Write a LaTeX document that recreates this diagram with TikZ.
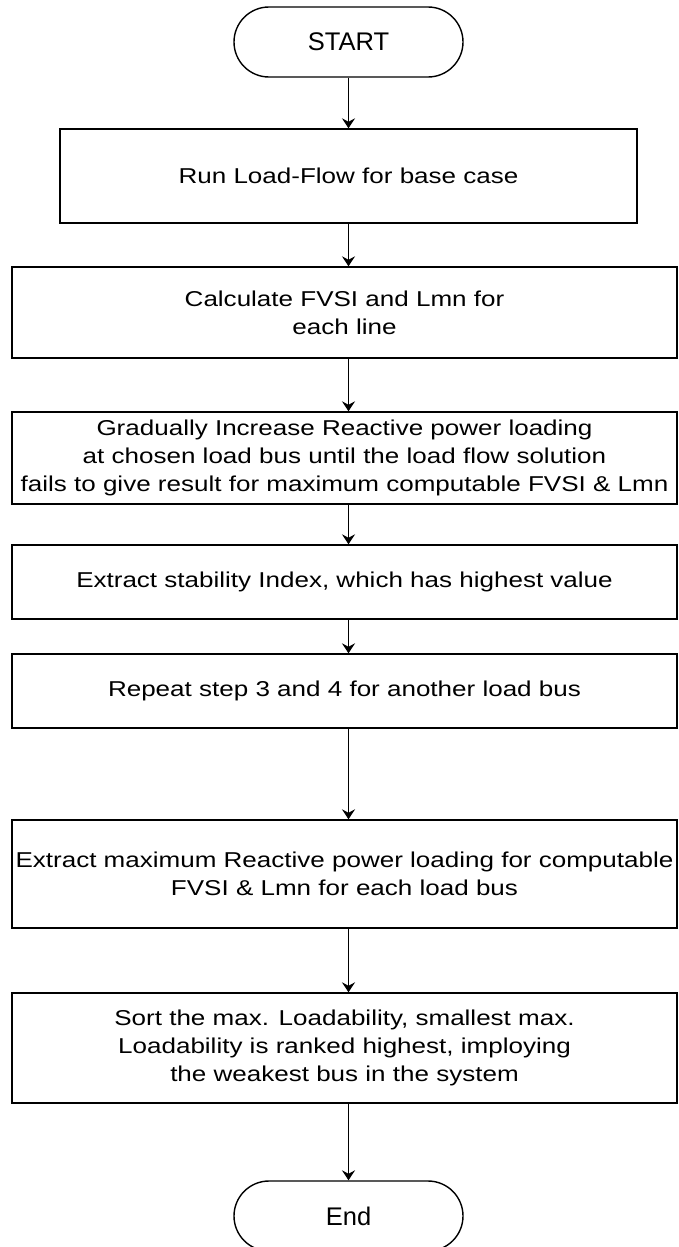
\documentclass[tikz,border=0pt]{standalone}
\usepackage{fontspec}
\setmainfont{Liberation Sans}[FakeStretch=1.21]
\newfontfamily\termfont{Liberation Sans}
\usetikzlibrary{arrows.meta}

\begin{document}
\begin{tikzpicture}[x=1pt,y=-1pt,
  proc/.style={draw, line width=1.4pt, inner sep=0pt, align=center,
    font=\fontsize{21.5}{28}\selectfont},
  term/.style={draw, line width=1.4pt, rounded corners=35pt,
    minimum width=229pt, minimum height=70pt, inner sep=0pt,
    font=\termfont\fontsize{25.5}{30}\selectfont},
  wide/.style={minimum width=665pt},
  flow/.style={line width=1.4pt, -{Stealth[length=10pt,width=13pt,inset=3.5pt]}}]
\useasboundingbox (0,0) rectangle (678,1247);
\clip (0,0) rectangle (678,1247);

% terminals and process steps
\node[term] (start) at (348.5,42) {START};
\node[proc, minimum width=577pt, minimum height=94pt] (b1) at (348.5,176)
  {Run Load-Flow for base case};
\node[proc, wide, minimum height=91pt] (b2) at (344.5,312.5)
  {Calculate FVSI and Lmn for\\each line};
\node[proc, wide, minimum height=92pt] (b3) at (344.5,458)
  {Gradually Increase Reactive power loading\\at chosen load bus until the load flow solution\\fails to give result for maximum computable FVSI \& Lmn};
\node[proc, wide, minimum height=74pt] (b4) at (344.5,582)
  {Extract stability Index, which has highest value};
\node[proc, wide, minimum height=74pt] (b5) at (344.5,691)
  {Repeat step 3 and 4 for another load bus};
\node[proc, wide, minimum height=108pt] (b6) at (344.5,874)
  {Extract maximum Reactive power loading for computable\\FVSI \& Lmn for each load bus};
\node[proc, wide, minimum height=110pt] (b7) at (344.5,1048)
  {Sort the max. Loadability, smallest max.\\Loadability is ranked highest, imploying\\the weakest bus in the system};
\node[term] (end) at (348.5,1216) {End};

% connectors along the common vertical axis
\draw[flow] (start.south) -- (b1.north -| start.south);
\draw[flow] (b1.south -| start.south) -- (b2.north -| start.south);
\draw[flow] (b2.south -| start.south) -- (b3.north -| start.south);
\draw[flow] (b3.south -| start.south) -- (b4.north -| start.south);
\draw[flow] (b4.south -| start.south) -- (b5.north -| start.south);
\draw[flow] (b5.south -| start.south) -- (b6.north -| start.south);
\draw[flow] (b6.south -| start.south) -- (b7.north -| start.south);
\draw[flow] (b7.south -| start.south) -- (end.north);
\end{tikzpicture}
\end{document}
